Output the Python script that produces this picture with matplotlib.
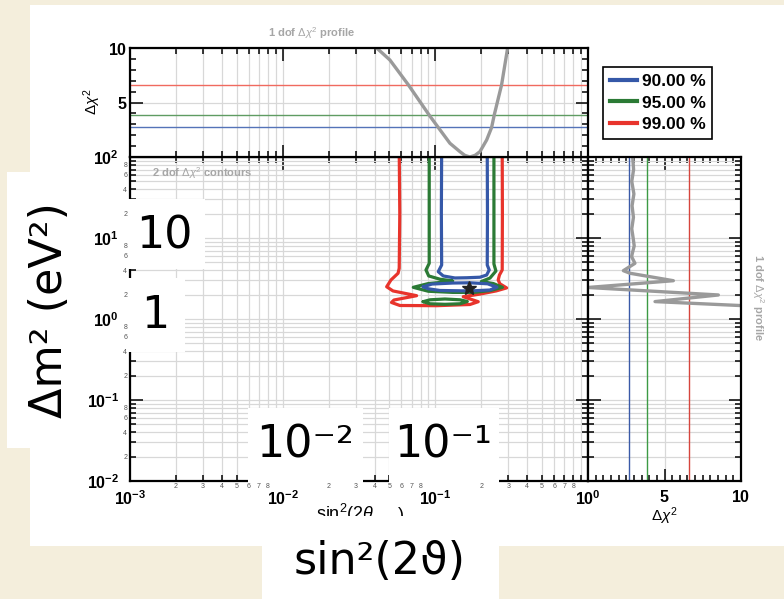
import numpy as np
import matplotlib
matplotlib.use('Agg')
import matplotlib.pyplot as plt
from matplotlib.ticker import LogLocator, FuncFormatter, MultipleLocator, FixedLocator, NullFormatter
from matplotlib.patches import Rectangle
from matplotlib.lines import Line2D
from matplotlib.font_manager import FontProperties

plt.rcParams['mathtext.fontset'] = 'custom'
plt.rcParams['mathtext.rm'] = 'Liberation Sans'
plt.rcParams['mathtext.bf'] = 'Liberation Sans:bold'
plt.rcParams['mathtext.it'] = 'Liberation Sans:italic'
plt.rcParams['mathtext.sf'] = 'Liberation Sans'
plt.rcParams['font.family'] = ['Liberation Sans', 'DejaVu Sans']

# ---------------- data ----------------
cl_labels = ['90.00 %', '95.00 %', '99.00 %']
cl_dchi2_1dof = [2.71, 3.84, 6.63]

# 1 dof profile vs sin^2(2theta) (top panel)
top_sin2 = [0.0400, 0.0413, 0.0504, 0.0665, 0.0912, 0.1045, 0.1246, 0.1449, 0.1560,
            0.1685, 0.1820, 0.1959, 0.2168, 0.2337, 0.2430, 0.2717, 0.2976, 0.3030]
top_dchi2 = [10.6, 10.0, 8.9, 6.63, 3.84, 2.71, 1.26, 0.49, 0.15,
             0.0, 0.15, 0.49, 1.56, 2.71, 3.84, 6.63, 10.0, 10.6]

# 1 dof profile vs dm2 (right panel)
prof_dm2 = [100, 70, 50, 35, 25, 18, 13, 10, 8.0, 6.5, 5.88, 4.87, 3.95, 3.67,
            2.97, 2.45, 1.98, 1.64, 1.45]
prof_dchi2 = [2.92, 2.98, 2.86, 3.00, 2.88, 2.97, 2.86, 2.95, 3.02, 2.90, 2.85, 3.07,
              2.31, 2.75, 5.58, 0.0, 8.52, 4.38, 10.5]

# best fit
best_sin2 = [0.166]
best_dm2 = [2.414]

# 90% contour: open U + island
blue_u_sin2 = [0.1100, 0.1095, 0.1100, 0.1045, 0.1127, 0.1344, 0.1603, 0.1959, 0.2168,
               0.2254, 0.2188, 0.2195, 0.2188]
blue_u_dm2 = [120, 20, 4.64, 3.84, 3.40, 3.21, 3.23, 3.28, 3.49, 4.03, 4.64, 20, 120]
blue_isl_sin2 = [0.0833, 0.0950, 0.1300, 0.1685, 0.2200, 0.2532, 0.2279, 0.1685, 0.1072, 0.0900, 0.0833]
blue_isl_dm2 = [2.50, 2.70, 2.78, 2.80, 2.72, 2.47, 2.28, 2.22, 2.25, 2.36, 2.50]

# 95% contour: open U merged with ellipse + lower island
green_sin2 = [0.0912, 0.0912, 0.0912, 0.0868, 0.0905, 0.1072, 0.1300, 0.1150, 0.0900, 0.0717,
              0.0900, 0.1300, 0.1800, 0.2300, 0.2750, 0.2400, 0.2000, 0.2279, 0.2494, 0.2420,
              0.2420, 0.2420]
green_dm2 = [120, 20, 4.87, 4.03, 3.40, 3.10, 2.95, 2.86, 2.74, 2.46,
             2.20, 2.13, 2.13, 2.25, 2.46, 2.74, 2.90, 3.20, 3.91, 4.78,
             20, 120]
green_isl_sin2 = [0.0832, 0.0922, 0.1156, 0.1449, 0.1620, 0.1449, 0.1156, 0.0922, 0.0832]
green_isl_dm2 = [1.635, 1.726, 1.766, 1.726, 1.645, 1.541, 1.519, 1.541, 1.635]

# 99% contour
red_sin2 = [0.0580, 0.0585, 0.0580, 0.0570, 0.0512, 0.0480, 0.0528, 0.0754, 0.0536, 0.0516,
            0.0586, 0.1020, 0.1685, 0.1910, 0.1523, 0.1959, 0.2500, 0.2930, 0.2650, 0.2580,
            0.2630, 0.2742, 0.2750, 0.2742]
red_dm2 = [120, 20, 4.23, 3.67, 3.03, 2.50, 2.22, 1.94, 1.716, 1.60,
           1.468, 1.46, 1.51, 1.635, 1.885, 2.03, 2.22, 2.42, 2.72, 3.03,
           3.49, 4.03, 20, 120]

x_minor_labels = [2, 3, 4, 5, 6, 7, 8]
y_minor_labels = [2, 4, 6, 8]

# ---------------- style ----------------
C_BLUE, C_GREEN, C_RED = '#3558a8', '#2b7a35', '#e8342c'
C_GREY = '#9a9a9a'
GRID = '#d8d8d8'
BEIGE = '#F4EEDC'
W, H = 784, 599

fig = plt.figure(figsize=(7.84, 5.99), dpi=100, facecolor=BEIGE)


def frect(x0, y0, x1, y1):
    return [x0 / W, 1 - y1 / H, (x1 - x0) / W, (y1 - y0) / H]


fig.add_artist(Rectangle((30 / W, 1 - 546 / H), 754 / W, 541 / H, transform=fig.transFigure,
                         fc='white', ec='none', zorder=-10))

ax_main = fig.add_axes(frect(130, 157, 588, 481))
ax_top = fig.add_axes(frect(130, 48, 588, 157))
ax_r = fig.add_axes(frect(588, 157, 741, 481))


def major_log(v, pos):
    e = int(round(np.log10(v)))
    return r'$\mathbf{10^{%d}}$' % e


def minor_fmt(allowed):
    def f(v, pos):
        m = int(round(v / 10 ** np.floor(np.log10(v) + 1e-9)))
        return str(m) if m in allowed else ''
    return f


def bf(v, pos):
    if abs(v) < 1e-9:
        return ''
    return r'$\mathbf{%g}$' % v


for ax in (ax_main, ax_top, ax_r):
    ax.set_facecolor('white')
    ax.set_axisbelow(True)
    for s in ax.spines.values():
        s.set_linewidth(1.6)
    ax.tick_params(which='both', direction='in', top=True, right=True, width=1.1)
    ax.tick_params(which='major', length=9)
    ax.tick_params(which='minor', length=4.5)

# log x axes
for ax in (ax_main, ax_top):
    ax.set_xscale('log')
    ax.set_xlim(1e-3, 1)
    ax.xaxis.set_major_locator(LogLocator(base=10, numticks=10))
    ax.xaxis.set_minor_locator(LogLocator(base=10, subs=np.arange(2, 10), numticks=10))
# log y axes
for ax in (ax_main, ax_r):
    ax.set_yscale('log')
    ax.set_ylim(1e-2, 1e2)
    ax.yaxis.set_major_locator(LogLocator(base=10, numticks=10))
    ax.yaxis.set_minor_locator(LogLocator(base=10, subs=np.arange(2, 10), numticks=10))

# main panel labels
ax_main.xaxis.set_major_formatter(FuncFormatter(major_log))
ax_main.xaxis.set_minor_formatter(FuncFormatter(minor_fmt(x_minor_labels)))
ax_main.yaxis.set_major_formatter(FuncFormatter(major_log))
ax_main.yaxis.set_minor_formatter(FuncFormatter(minor_fmt(y_minor_labels)))
ax_main.tick_params(axis='x', which='major', labelsize=11.5, pad=6)
ax_main.tick_params(axis='x', which='minor', labelsize=5, pad=1.5, labelcolor='#555555')
ax_main.tick_params(axis='y', which='major', labelsize=11.5, pad=8)
ax_main.tick_params(axis='y', which='minor', labelsize=5, pad=2, labelcolor='#555555')
ax_main.grid(True, which='both', color=GRID, lw=0.9)

# top panel
ax_top.set_ylim(0, 10)
ax_top.yaxis.set_major_locator(FixedLocator([0, 5, 10]))
ax_top.yaxis.set_minor_locator(MultipleLocator(1))
ax_top.yaxis.set_major_formatter(FuncFormatter(bf))
ax_top.xaxis.set_major_formatter(NullFormatter())
ax_top.xaxis.set_minor_formatter(NullFormatter())
ax_top.tick_params(axis='y', which='major', labelsize=11.5, pad=2)
ax_top.grid(True, axis='x', which='both', color=GRID, lw=0.9)
ax_top.grid(True, axis='y', which='major', color=GRID, lw=0.9)

# right panel
ax_r.set_xlim(0, 10)
ax_r.xaxis.set_major_locator(FixedLocator([0, 5, 10]))
ax_r.xaxis.set_minor_locator(MultipleLocator(0.5))
ax_r.xaxis.set_major_formatter(FuncFormatter(bf))
ax_r.yaxis.set_major_formatter(NullFormatter())
ax_r.yaxis.set_minor_formatter(NullFormatter())
ax_r.tick_params(axis='x', which='major', labelsize=11.5, pad=6)
ax_r.grid(True, axis='y', which='both', color=GRID, lw=0.9)
ax_r.grid(True, axis='x', which='major', color=GRID, lw=0.9)

# ---------------- data drawing ----------------
thin_top = ['#5473b8', '#5f9c62', '#f06a5f']
thin_r = ['#3a5aa8', '#3c9a44', '#d6453d']
for v, c in zip(cl_dchi2_1dof, thin_top):
    ax_top.axhline(v, color=c, lw=1.0)
for v, c in zip(cl_dchi2_1dof, thin_r):
    ax_r.axvline(v, color=c, lw=1.0)

ax_top.plot(top_sin2, top_dchi2, color=C_GREY, lw=2.4, solid_joinstyle='round')
ax_r.plot(prof_dchi2, prof_dm2, color=C_GREY, lw=2.4, solid_joinstyle='round')

kw = dict(lw=2.3, solid_joinstyle='round', solid_capstyle='round')
ax_main.plot(red_sin2, red_dm2, color=C_RED, **kw)
ax_main.plot(green_sin2, green_dm2, color=C_GREEN, **kw)
ax_main.plot(green_isl_sin2, green_isl_dm2, color=C_GREEN, **kw)
ax_main.plot(blue_u_sin2, blue_u_dm2, color=C_BLUE, **kw)
ax_main.plot(blue_isl_sin2, blue_isl_dm2, color=C_BLUE, **kw)
ax_main.plot(best_sin2, best_dm2, marker='*', color='#222222', ms=10, ls='none', zorder=5)

# legend
handles = [Line2D([], [], color=c, lw=3) for c in (C_BLUE, C_GREEN, C_RED)]
leg = fig.legend(handles, cl_labels, loc='upper left', bbox_to_anchor=(603 / W, 1 - 67 / H),
                 bbox_transform=fig.transFigure, frameon=True, fancybox=False, edgecolor='black',
                 framealpha=1, borderaxespad=0,
                 prop=FontProperties(family='Liberation Sans', weight='bold', size=12.5),
                 handlelength=1.6, handletextpad=0.25, labelspacing=0.38, borderpad=0.38)
leg.get_frame().set_linewidth(1.2)

# grey annotations
gk = dict(fontsize=8, color='#a6a6a6', weight='bold', family='Liberation Sans')
fig.text(311 / W, 1 - 33 / H, r'1 dof $\Delta\chi^{2}$ profile', ha='center', va='center', **gk)
fig.text(152 / W, 1 - 173 / H, r'2 dof $\Delta\chi^{2}$ contours', ha='left', va='center', **gk)
fig.text(758 / W, 1 - 297 / H, r'1 dof $\Delta\chi^{2}$ profile', ha='center', va='center',
         rotation=270, **gk)

# axis titles
fig.text(92 / W, 1 - 102 / H, r'$\Delta\chi^{2}$', rotation=90, ha='center', va='center', fontsize=11)
fig.text(664 / W, 1 - 516 / H, r'$\Delta\chi^{2}$', ha='center', va='center', fontsize=11)
fig.text(316 / W, 1 - 520 / H, r'sin$^{2}$(2$\theta$', ha='left', va='baseline', fontsize=13)
fig.text(398 / W, 1 - 520 / H, ')', ha='left', va='baseline', fontsize=13)

# overlay boxes with big labels
boxes = [((7, 172, 85, 448), 'Δm² (eV²)', (50, 310), 90),
         ((128, 199, 205, 269), '10', (164, 236), 0),
         ((128, 278, 185, 352), '1', (155, 315), 0),
         ((248, 408, 363, 483), '10⁻²', (305, 445), 0),
         ((389, 408, 499, 483), '10⁻¹', (443, 445), 0),
         ((262, 516, 499, 599), 'sin²(2ϑ)', (380, 562), 0)]
for (x0, y0, x1, y1), txt, (tx, ty), rot in boxes:
    fig.add_artist(Rectangle((x0 / W, 1 - y1 / H), (x1 - x0) / W, (y1 - y0) / H,
                             transform=fig.transFigure, fc='white', ec='none', zorder=20))
    fig.text(tx / W, 1 - ty / H, txt, ha='center', va='center', rotation=rot,
             fontsize=32, family='DejaVu Sans', color='black', zorder=21)

fig.savefig('out.png', dpi=100, facecolor=BEIGE)
